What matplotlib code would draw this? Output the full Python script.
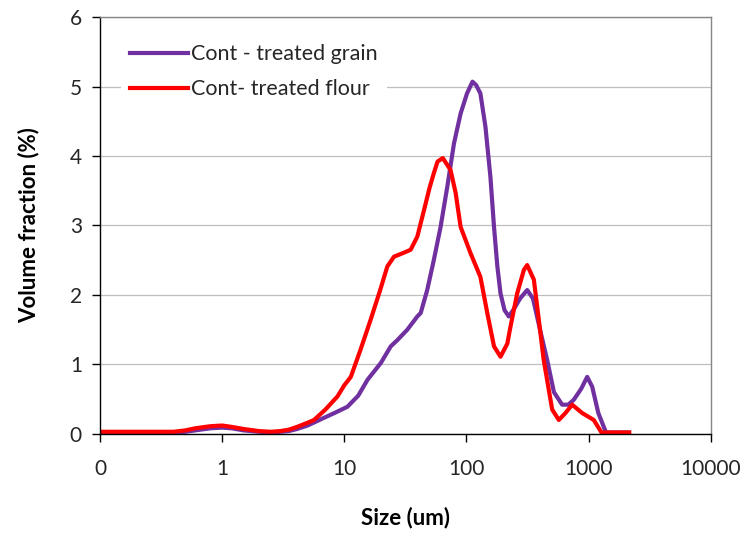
import matplotlib.pyplot as plt

plt.rcParams['font.family'] = ['Lato', 'DejaVu Sans']

# Particle size distribution, grain sample
grain_size = [0.1, 0.2, 0.3, 0.4, 0.5, 0.6, 0.8, 1.0, 1.2, 1.5, 2.0, 2.5, 3.0,
              3.5, 4.1, 5.0, 5.6, 6.8, 8.3, 10.6, 13, 15.5, 19.9, 24, 27.2,
              32.8, 39.6, 42.2, 47.7, 54, 61.4, 69.7, 79, 89.5, 101, 112,
              120, 130, 143, 157, 168, 179, 190, 205, 222, 245, 275, 314,
              350, 400, 458, 520, 607, 680, 755, 870, 973, 1069, 1200, 1387,
              1600, 2144]
grain_vol = [0.02, 0.02, 0.02, 0.02, 0.03, 0.05, 0.08, 0.09, 0.08, 0.05, 0.03,
             0.02, 0.03, 0.04, 0.07, 0.12, 0.16, 0.23, 0.30, 0.39, 0.55, 0.78,
             1.02, 1.26, 1.35, 1.50, 1.69, 1.74, 2.07, 2.50, 2.98, 3.56, 4.18,
             4.61, 4.90, 5.07, 5.02, 4.90, 4.42, 3.70, 2.98, 2.41, 2.02, 1.78,
             1.69, 1.80, 1.95, 2.07, 1.95, 1.50, 1.06, 0.60, 0.42, 0.42, 0.49,
             0.65, 0.82, 0.68, 0.30, 0.02, 0.02, 0.02]

# Particle size distribution, flour sample
flour_size = [0.1, 0.2, 0.3, 0.4, 0.5, 0.6, 0.8, 1.0, 1.2, 1.5, 2.0, 2.5, 3.0,
              3.5, 4.1, 5.0, 5.65, 7, 8.8, 10, 11.3, 13.5, 16.4, 19.5, 22.5,
              25.5, 30, 34.9, 39.6, 44.9, 50, 54, 58, 64, 74, 81.5, 89.5, 108,
              130, 148, 168, 190, 216, 229, 260, 295, 314, 356, 391, 429, 503,
              570, 646, 733, 885, 1101, 1274, 2144]
flour_vol = [0.03, 0.03, 0.03, 0.03, 0.05, 0.08, 0.11, 0.12, 0.10, 0.07, 0.04,
             0.03, 0.04, 0.06, 0.10, 0.16, 0.20, 0.35, 0.54, 0.70, 0.82, 1.20,
             1.64, 2.05, 2.41, 2.55, 2.60, 2.65, 2.84, 3.22, 3.55, 3.75, 3.92,
             3.97, 3.80, 3.47, 2.98, 2.60, 2.26, 1.74, 1.26, 1.11, 1.30, 1.54,
             2.02, 2.36, 2.43, 2.22, 1.64, 1.06, 0.35, 0.20, 0.30, 0.42, 0.30,
             0.20, 0.02, 0.02]

x_ticks = [0.1, 1, 10, 100, 1000, 10000]
x_labels = ['0', '1', '10', '100', '1000', '10000']

fig = plt.figure(figsize=(7.49, 5.33), dpi=100)
ax = fig.add_axes([0.1335, 0.186, 0.8155, 0.782])

ax.plot(grain_size, grain_vol, color='#7030A0', lw=3,
        label='Cont - treated grain', solid_joinstyle='round')
ax.plot(flour_size, flour_vol, color='#FF0000', lw=3,
        label='Cont- treated flour', solid_joinstyle='round')

ax.set_xscale('log')
ax.set_xlim(0.1, 10000)
ax.set_ylim(0, 6)
ax.set_xticks(x_ticks)
ax.set_xticklabels(x_labels)
ax.minorticks_off()
ax.set_yticks(range(7))

ax.yaxis.grid(True, color='#BFBFBF', lw=0.9)
ax.set_axisbelow(True)
ax.tick_params(axis='both', direction='out', length=6, width=1,
               labelsize=15, colors='black', labelcolor='#262626')
ax.tick_params(axis='x', pad=12)
ax.tick_params(axis='y', pad=7)

for side in ['left', 'bottom']:
    ax.spines[side].set_color('black')
    ax.spines[side].set_linewidth(1)
for side in ['top', 'right']:
    ax.spines[side].set_color('#868686')
    ax.spines[side].set_linewidth(1)

ax.set_xlabel('Size (um)', fontsize=16, fontweight='bold', labelpad=20)
ax.set_ylabel('Volume fraction (%)', fontsize=16, fontweight='bold', labelpad=22)

leg = ax.legend(loc='upper left', bbox_to_anchor=(0.035, 0.955), fontsize=15.5,
                frameon=True, facecolor='white', edgecolor='none',
                framealpha=1, handlelength=2.7, handletextpad=0.15,
                borderaxespad=0, labelspacing=0.7)
for t in leg.get_texts():
    t.set_color('#262626')

fig.savefig('out.png', dpi=100)
